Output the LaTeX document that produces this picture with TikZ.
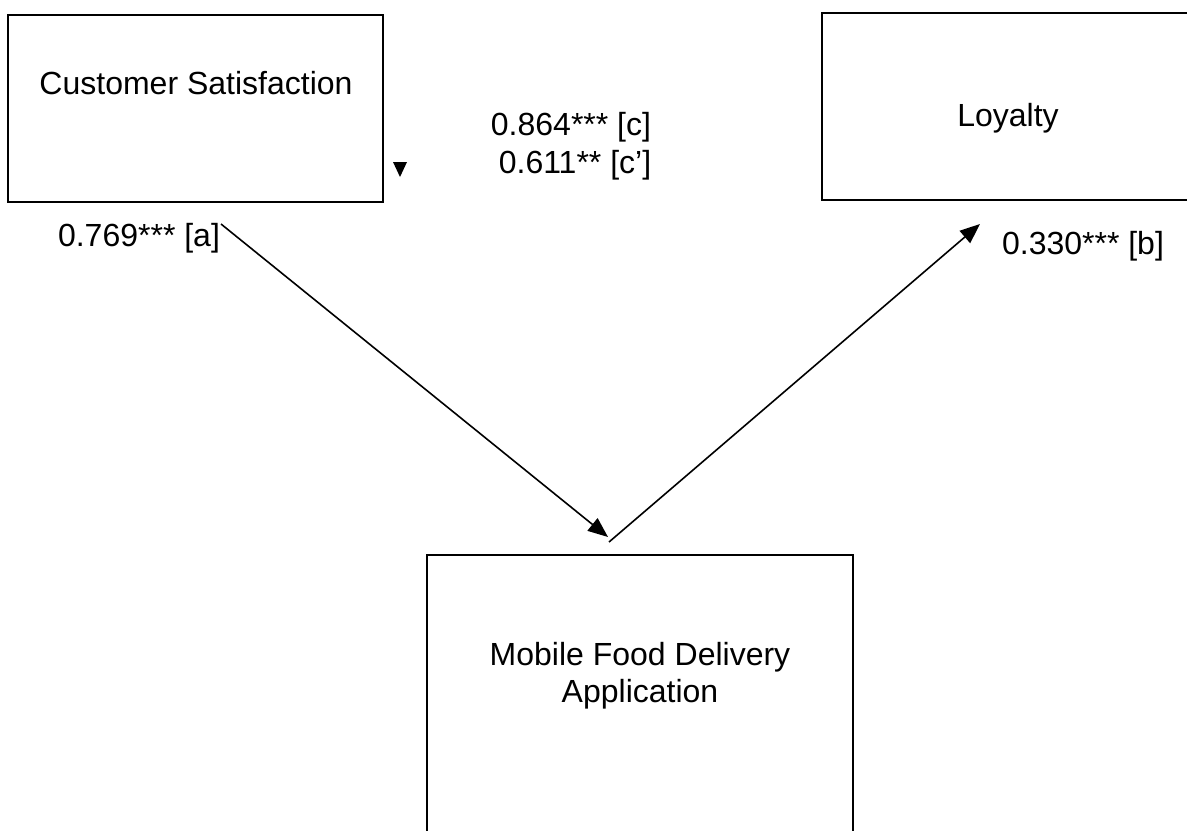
\documentclass[tikz,border=0pt]{standalone}
\usepackage{fontspec}
\setmainfont{Liberation Sans}
\usepackage{tikz}
\usetikzlibrary{positioning, arrows.meta}

\begin{document}
\begin{tikzpicture}[x=0.5pt, y=-0.5pt,
    box/.style={draw, line width=1pt, inner sep=0pt},
    lbl/.style={font=\fontsize{16}{18.5}\selectfont, inner sep=0pt, align=center},
    path/.style={line width=0.8pt, -{Triangle[length=10pt, width=8pt]}}]
  \clip (0,0) rectangle (1187,830);

  % Boxes
  \node[box, minimum width=187.5pt, minimum height=93.5pt] (cs) at (195.5,108.5) {};
  \node[box, minimum width=189pt, minimum height=93.5pt] (loy) at (1011,106) {};
  \node[box, minimum width=213pt, minimum height=172.5pt] (mfd) at (640,727.5) {};

  \node[lbl] (cstxt) at (196,83) {Customer Satisfaction};
  \node[lbl] (loytxt) at (1008,118) {Loyalty};
  \node[lbl] (mfdtxt) at (640,676) {Mobile Food Delivery\\Application};

  % Path coefficients
  \node[lbl] (coefc) at (571,127) {0.864*** [c]};
  \node[lbl] (coefcp) at (575,165) {0.611** [c’]};
  \node[lbl] (coefa) at (139,238) {0.769*** [a]};
  \node[lbl] (coefb) at (1083,246) {0.330*** [b]};

  % Arrows
  \coordinate (astart) at (221,224);
  \coordinate (aend) at (608,537);
  \coordinate (bstart) at (609,542);
  \coordinate (bend) at (980,224);
  \draw[path] (astart) -- (aend);
  \draw[path] (bstart) -- (bend);

  % Stray arrow tip
  \fill (393,162) -- (407,162) -- (400,177) -- cycle;
\end{tikzpicture}
\end{document}
